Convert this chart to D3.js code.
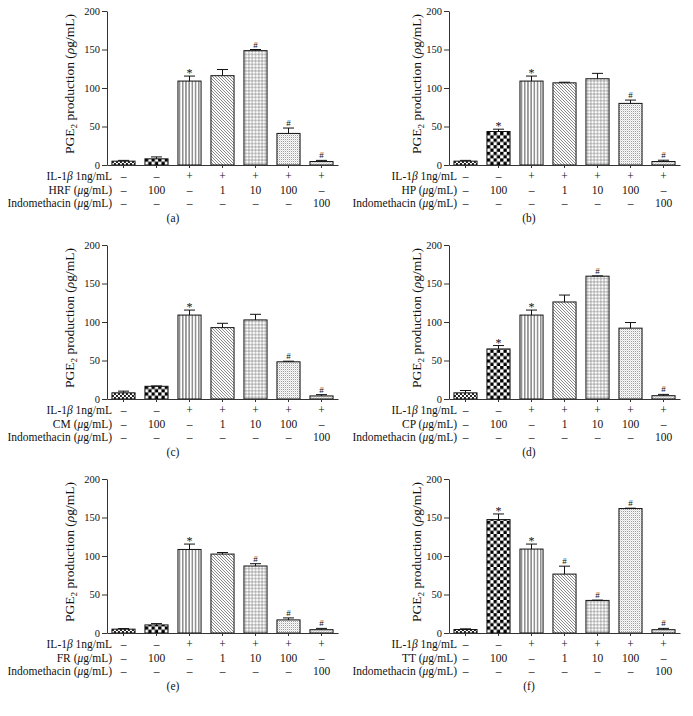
<!DOCTYPE html>
<html><head><meta charset="utf-8">
<script src="https://cdn.jsdelivr.net/npm/d3@7"></script>
<style>
body{margin:0;background:#fff;}
svg{display:block;font-family:"Liberation Serif","Times New Roman",serif;}
</style></head>
<body><svg id="chart" width="693" height="716"></svg>
<script>
// ---- data ----
const panelLabels = ["(a)","(b)","(c)","(d)","(e)","(f)"];
const extractNames = ["HRF","HP","CM","CP","FR","TT"];
const il1bRow = ["–","–","+","+","+","+","+"];
const extractRow = ["–","100","–","1","10","100","–"];
const indoRow = ["–","–","–","–","–","–","100"];
const yTicks = [0,50,100,150,200];

const hrfMeans = [5, 8, 109, 116, 148.5, 41, 4.5];
const hrfErrors = [1, 2.5, 6.5, 8, 1.5, 7, 1.5];
const hrfMarks = ["", "", "*", "", "#", "#", "#"];

const hpMeans = [5, 43.5, 109, 106.7, 112, 80, 4.5];
const hpErrors = [1, 3, 6.5, 0.8, 7, 4.3, 1.7];
const hpMarks = ["", "*", "*", "", "", "#", "#"];

const cmMeans = [8, 16.5, 109, 92.7, 102.7, 48.3, 4];
const cmErrors = [2.2, 0.5, 6.5, 5.6, 7.3, 0.8, 1.7];
const cmMarks = ["", "", "*", "", "", "#", "#"];

const cpMeans = [8, 65, 109, 126, 159.5, 92, 4.3];
const cpErrors = [3, 4.4, 6.5, 9, 0.4, 7.3, 1.7];
const cpMarks = ["", "*", "*", "", "#", "", "#"];

const frMeans = [5, 10.5, 108.5, 102.5, 87, 17, 4.3];
const frErrors = [0.8, 1.7, 7, 2, 3, 2.6, 1.7];
const frMarks = ["", "", "*", "", "#", "#", "#"];

const ttMeans = [4.5, 147.3, 109, 76.5, 42.3, 161.6, 4.3];
const ttErrors = [0.9, 7.3, 6.5, 10.3, 0.4, 0.5, 1.7];
const ttMarks = ["", "*", "*", "#", "#", "#", "#"];

const allMeans = [hrfMeans, hpMeans, cmMeans, cpMeans, frMeans, ttMeans];
const allErrors = [hrfErrors, hpErrors, cmErrors, cpErrors, frErrors, ttErrors];
const allMarks = [hrfMarks, hpMarks, cmMarks, cpMarks, frMarks, ttMarks];

// ---- layout ----
const colX = [107, 449];
const rowY0 = [165, 399, 633];
const plotW = 231, plotH = 154;
const labelGap = [5, 8];
const ylabOff = [33, 28];

const svg = d3.select("#chart");
const defs = svg.append("defs");

function pat(id, w, h, draw){
  const p = defs.append("pattern").attr("id", id).attr("patternUnits","userSpaceOnUse")
    .attr("width", w).attr("height", h);
  p.append("rect").attr("width", w).attr("height", h).attr("fill", "#fff");
  draw(p);
}
// 0: small checker
pat("p0", 4, 4, p => {
  p.append("rect").attr("x",0).attr("y",0).attr("width",2).attr("height",2).attr("fill","#222");
  p.append("rect").attr("x",2).attr("y",2).attr("width",2).attr("height",2).attr("fill","#222");
});
// 1: big checker
pat("p1", 6.6, 6.6, p => {
  p.append("rect").attr("x",0).attr("y",0).attr("width",3.3).attr("height",3.3).attr("fill","#000");
  p.append("rect").attr("x",3.3).attr("y",3.3).attr("width",3.3).attr("height",3.3).attr("fill","#000");
});
// 2: vertical lines
pat("p2", 3.2, 3.2, p => {
  p.append("line").attr("x1",1.6).attr("x2",1.6).attr("y1",0).attr("y2",3.2).attr("stroke","#222").attr("stroke-width",0.8);
});
// 3: diagonal "\"
pat("p3", 3, 3, p => {
  p.append("path").attr("d","M0,0L3,3M-1,2L1,4M2,-1L4,1").attr("stroke","#333").attr("stroke-width",0.6);
});
// 4: grid
pat("p4", 3.3, 3.3, p => {
  p.append("path").attr("d","M1.65,0V3.3M0,1.65H3.3").attr("stroke","#666").attr("stroke-width",0.5);
});
// 5: light stipple
pat("p5", 2, 2, p => {
  p.append("rect").attr("x",0).attr("y",0).attr("width",1).attr("height",1).attr("fill","#999");
  p.append("rect").attr("x",1).attr("y",1).attr("width",1).attr("height",1).attr("fill","#ddd");
});
// 6: fine diagonal "/"
pat("p6", 2.5, 2.5, p => {
  p.append("path").attr("d","M0,2.5L2.5,0M-1,1L1,-1M1.5,3.5L3.5,1.5").attr("stroke","#777").attr("stroke-width",0.6);
});

const y = d3.scaleLinear().domain([0,200]).range([plotH, 0]);
const x = d3.scaleBand().domain(d3.range(7)).range([0, plotW]).paddingInner(0.3).paddingOuter(0.15);

allMeans.forEach((means, i) => {
  const col = i % 2, row = Math.floor(i / 2);
  const ox = colX[col], oy = rowY0[row] - plotH;
  const g = svg.append("g").attr("transform", `translate(${ox},${oy})`);
  const errs = allErrors[i], marks = allMarks[i];

  // bars
  means.forEach((m, k) => {
    const bg = g.append("g").attr("transform", `translate(${x(k)},${plotH})`);
    const h = plotH - y(m);
    bg.append("rect").attr("x", 0).attr("y", -h).attr("width", x.bandwidth()).attr("height", h)
      .attr("fill", `url(#p${k})`).attr("stroke", "#111").attr("stroke-width", 1);
  });
  // error bars
  means.forEach((m, k) => {
    const cx = x(k) + x.bandwidth()/2;
    const top = y(m + errs[k]);
    g.append("line").attr("x1", cx).attr("x2", cx).attr("y1", y(m)).attr("y2", top).attr("stroke","#111").attr("stroke-width",1);
    g.append("line").attr("x1", cx - 5.5).attr("x2", cx + 5.5).attr("y1", top).attr("y2", top).attr("stroke","#111").attr("stroke-width",1);
    if (marks[k]) {
      g.append("text").attr("x", cx).attr("y", marks[k] === "*" ? top + 1 : top - 2)
        .attr("text-anchor","middle").attr("font-size", marks[k] === "*" ? 12 : 9).attr("fill","#111").text(marks[k]);
    }
  });

  // axes
  const ya = g.append("g").call(d3.axisLeft(y).tickValues(yTicks).tickSize(5).tickSizeOuter(0).tickPadding(2));
  ya.selectAll("text").attr("font-size", 10.5).attr("font-family","Liberation Serif").attr("fill","#111");
  ya.selectAll("path,line").attr("stroke","#333");
  const xa = g.append("g").attr("transform", `translate(0,${plotH})`)
    .call(d3.axisBottom(x).tickSize(3).tickSizeOuter(0).tickFormat(""));
  xa.selectAll("path,line").attr("stroke","#333");

  // y label
  const yl = g.append("text").attr("transform", `translate(${-ylabOff[col]},${plotH/2 - 4}) rotate(-90)`)
    .attr("text-anchor","middle").attr("font-size", 13.5).attr("fill","#111");
  yl.append("tspan").text("PGE");
  yl.append("tspan").attr("font-size", 9).attr("dy", 3).text("2");
  yl.append("tspan").attr("dy", -3).text(" production (");
  yl.append("tspan").attr("font-style","italic").text("ρ");
  yl.append("tspan").text("g/mL)");

  // table
  const tx = labelGap[col];
  const rows = [
    {lab: [["IL-1",""],["β","italic"],[" 1ng/mL",""]], vals: il1bRow, dy: 14.5},
    {lab: [[extractNames[i] + " (",""],["μ","italic"],["g/mL)",""]], vals: extractRow, dy: 29},
    {lab: [["Indomethacin (",""],["μ","italic"],["g/mL)",""]], vals: indoRow, dy: 42}
  ];
  rows.forEach(r => {
    const t = g.append("text").attr("x", tx).attr("y", plotH + r.dy).attr("text-anchor","end")
      .attr("font-size", 11.5).attr("fill","#111");
    r.lab.forEach(s => t.append("tspan").attr("font-style", s[1] || null).text(s[0]));
    r.vals.forEach((v, k) => {
      g.append("text").attr("x", x(k) + x.bandwidth()/2).attr("y", plotH + r.dy)
        .attr("text-anchor","middle").attr("font-size", 11.5).attr("fill","#111").text(v);
    });
  });
  // caption
  g.append("text").attr("x", col === 0 ? 66 : 80).attr("y", plotH + 57).attr("text-anchor","middle")
    .attr("font-size", 11.5).attr("fill","#111").text(panelLabels[i]);
});
</script></body></html>
